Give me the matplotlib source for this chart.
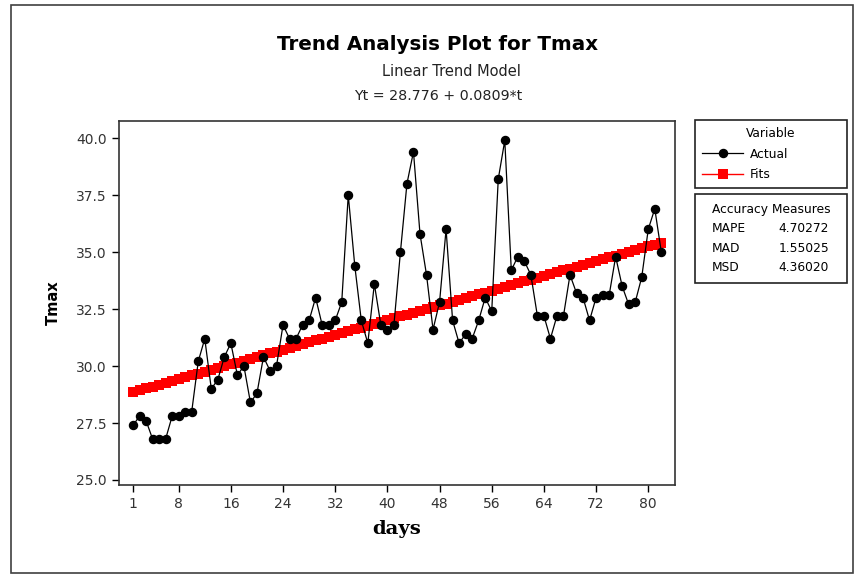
import numpy as np
import matplotlib.pyplot as plt
from matplotlib.patches import Rectangle

## --- Data ---
# Daily maximum temperature
tmax = [27.4, 27.8, 27.6, 26.8, 26.8, 26.8, 27.8, 27.8, 28.0, 28.0,
        30.2, 31.2, 29.0, 29.4, 30.4, 31.0, 29.6, 30.0, 28.4, 28.8,
        30.4, 29.8, 30.0, 31.8, 31.2, 31.2, 31.8, 32.0, 33.0, 31.8,
        31.8, 32.0, 32.8, 37.5, 34.4, 32.0, 31.0, 33.6, 31.8, 31.6,
        31.8, 35.0, 38.0, 39.4, 35.8, 34.0, 31.6, 32.8, 36.0, 32.0,
        31.0, 31.4, 31.2, 32.0, 33.0, 32.4, 38.2, 39.9, 34.2, 34.8,
        34.6, 34.0, 32.2, 32.2, 31.2, 32.2, 32.2, 34.0, 33.2, 33.0,
        32.0, 33.0, 33.1, 33.1, 34.8, 33.5, 32.7, 32.8, 33.9, 36.0,
        36.9, 35.0]
days = np.arange(1, len(tmax) + 1)

# Linear trend model
b0 = 28.776
b1 = 0.0809
fits = b0 + b1 * days

measure_names = ["MAPE", "MAD", "MSD"]
measure_values = ["4.70272", "1.55025", "4.36020"]

x_ticks = [1, 8, 16, 24, 32, 40, 48, 56, 64, 72, 80]
y_ticks = [25.0, 27.5, 30.0, 32.5, 35.0, 37.5, 40.0]

## --- Plot ---
W, H = 856, 576
fig = plt.figure(figsize=(W / 100, H / 100), dpi=100)
fig.patch.set_facecolor("white")

# outer frame
fig.add_artist(Rectangle((11 / W, 1 - 573 / H), (853 - 11) / W, (573 - 5) / H,
                         transform=fig.transFigure, fill=False,
                         edgecolor="#404040", linewidth=1.2))

ax = fig.add_axes([119 / W, 1 - 485 / H, (675 - 119) / W, (485 - 121) / H])

l_act, = ax.plot(days, tmax, color="black", linewidth=0.9, marker="o",
                 markersize=5.8, label="Actual", zorder=3)
l_fit, = ax.plot(days, fits, color="#ff0000", linewidth=1.0, marker="s",
                 markersize=7.5, markeredgewidth=0, label="Fits", zorder=2)

ax.set_xlim(-1.15, 84.1)
ax.set_ylim(24.78, 40.75)
ax.set_xticks(x_ticks)
ax.set_yticks(y_ticks)
ax.set_yticklabels([f"{v:.1f}" for v in y_ticks])
ax.tick_params(direction="out", length=5, width=1, labelsize=10,
               labelcolor="#333333", pad=4)
for s in ax.spines.values():
    s.set_color("#333333")
    s.set_linewidth(1.2)

ax.set_xlabel("days", family="DejaVu Serif", fontweight="bold", fontsize=14,
              labelpad=6)
ax.set_ylabel("Tmax", fontweight="bold", fontsize=10.5, labelpad=11)

# titles
fig.text(438 / W, 1 - 45 / H, "Trend Analysis Plot for Tmax", ha="center",
         va="center", fontsize=14.3, fontweight="bold")
fig.text(451 / W, 1 - 71 / H, "Linear Trend Model", ha="center",
         va="center", fontsize=10.5, color="#222222")
fig.text(438 / W, 1 - 96 / H, f"Yt = {b0} + {b1}*t", ha="center",
         va="center", fontsize=10.3, color="#222222")

# variable legend
leg = fig.legend(handles=[l_act, l_fit], title="Variable", loc="upper left",
                 bbox_to_anchor=(695 / W, 1 - 189 / H, 152 / W, 69 / H),
                 mode="expand", fancybox=False, edgecolor="#222222",
                 fontsize=8.8, title_fontsize=8.8, handlelength=3.3,
                 borderaxespad=0, framealpha=1, labelspacing=0.6,
                 borderpad=0.6, handletextpad=0.6)
leg.get_frame().set_linewidth(1.2)

# accuracy measures box
fig.add_artist(Rectangle((695 / W, 1 - 283 / H), 152 / W, (283 - 194) / H,
                         transform=fig.transFigure, fill=False,
                         edgecolor="#222222", linewidth=1.2))
fig.text(771 / W, 1 - 210 / H, "Accuracy Measures", ha="center", va="center",
         fontsize=8.8)
for i, (name, val) in enumerate(zip(measure_names, measure_values)):
    y = 1 - (229 + i * 19) / H
    fig.text(712 / W, y, name, ha="left", va="center", fontsize=8.8)
    fig.text(829 / W, y, val, ha="right", va="center", fontsize=8.8)

fig.savefig("out.png", dpi=100)
